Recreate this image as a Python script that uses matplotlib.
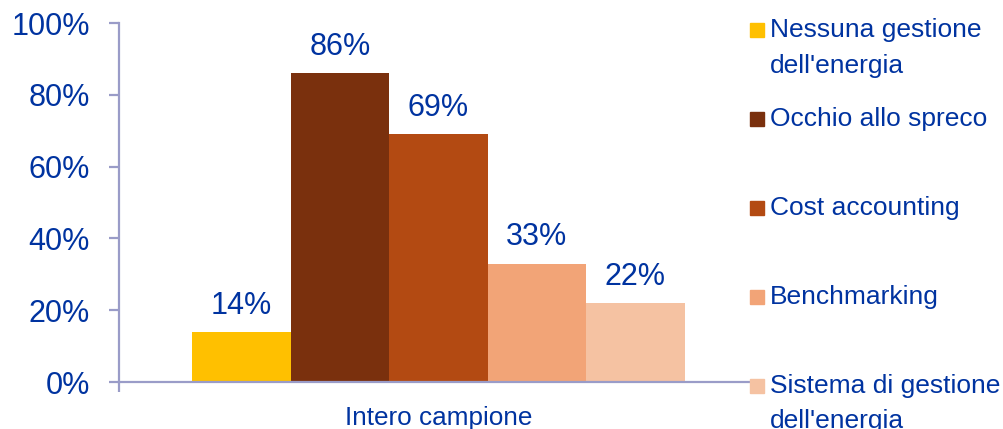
import matplotlib
matplotlib.use("Agg")
import matplotlib.pyplot as plt
from matplotlib.patches import Rectangle

plt.rcParams['font.family'] = ['Liberation Sans', 'DejaVu Sans']

category = "Intero campione"
series = ["Nessuna gestione\ndell'energia", "Occhio allo spreco", "Cost accounting",
          "Benchmarking", "Sistema di gestione\ndell'energia"]
values = [14, 86, 69, 33, 22]
colors = ['#ffc000', '#7a300d', '#b34a12', '#f2a477', '#f5c2a2']
yticks = [0, 20, 40, 60, 80, 100]

text_blue = '#0033a0'
axis_col = '#9a9cc8'

W, H = 1004, 429
fig = plt.figure(figsize=(W / 100, H / 100), dpi=100)
ax = fig.add_axes([119 / W, 47 / H, 639 / W, 359 / H])

bar_w = 0.154
n = len(values)
for i, (v, c) in enumerate(zip(values, colors)):
    x = (i - (n - 1) / 2) * bar_w
    ax.bar(x, v, width=bar_w, color=c, zorder=2)
    ax.annotate(f"{v}%", (x, v), xytext=(0, 13), textcoords='offset points',
                ha='center', va='baseline', fontsize=22, color=text_blue)

ax.set_xlim(-0.5, 0.5)
ax.set_ylim(0, 100)
ax.set_yticks(yticks)
ax.set_yticklabels([f"{t}%" for t in yticks])
ax.set_xticks([0])
ax.set_xticklabels([category])
ax.set_xticks([-0.5], minor=True)

for s in ['top', 'right']:
    ax.spines[s].set_visible(False)
for s in ['left', 'bottom']:
    ax.spines[s].set_color(axis_col)
    ax.spines[s].set_linewidth(1.6)
    ax.spines[s].set_zorder(3)

ax.tick_params(axis='y', length=7, width=1.6, color=axis_col, pad=14,
               labelsize=22, labelcolor=text_blue)
ax.tick_params(axis='x', which='major', length=0, pad=17,
               labelsize=18.8, labelcolor=text_blue)
ax.tick_params(axis='x', which='minor', length=7, width=1.6, color=axis_col)

# legend drawn as separate squares and text lines on the right
first_y = 30
step = 88.9
for i, (lab, c) in enumerate(zip(series, colors)):
    yc = first_y + i * step
    fig.patches.append(Rectangle(((750) / W, 1 - (yc + 7) / H), 14 / W, 14 / H,
                                 transform=fig.transFigure, color=c, zorder=5))
    for j, line in enumerate(lab.split("\n")):
        fig.text(770 / W, 1 - (yc + 7.5 + j * 35) / H, line, ha='left',
                 va='baseline', fontsize=19, color=text_blue)

fig.savefig("out.png", dpi=100)
